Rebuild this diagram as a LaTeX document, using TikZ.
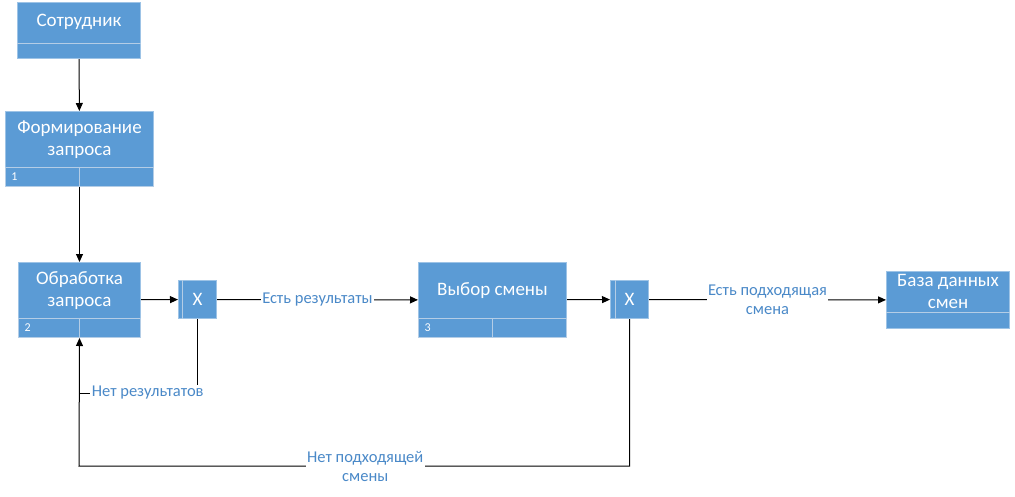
\documentclass[tikz,border=0pt]{standalone}
\usepackage{fontspec}
\setmainfont{Carlito}
\usepackage{xcolor}
\usetikzlibrary{arrows.meta, positioning, calc}

\definecolor{boxblue}{HTML}{5B9BD5}
\definecolor{boxedge}{HTML}{9DC3E6}
\definecolor{divblue}{HTML}{B4CDE6}
\definecolor{lblblue}{HTML}{4A89C8}

\begin{document}
\begin{tikzpicture}[
                x=1pt, y=-1pt,
                box/.style={rectangle, draw=boxedge, line width=1pt, fill=boxblue, inner sep=0pt, anchor=north west},
                boxtitle/.style={rectangle, inner sep=0pt, text=white, align=center, font=\fontsize{19}{22}\selectfont},
                cell/.style={rectangle, draw=divblue, line width=1pt, inner ysep=0pt, inner xsep=6pt, text=white, font=\fontsize{12}{12}\selectfont},
                junc/.style={box, minimum width=38, minimum height=38, text=white, font=\fontsize{19}{20}\selectfont},
                divline/.style={draw=divblue, line width=1pt},
                wire/.style={draw=black, line width=1pt},
                flow/.style={wire, -{Triangle[length=8pt, width=7pt]}},
                lbl/.style={fill=white, inner sep=1.5pt, text=lblblue, align=center, font=\fontsize{16.5}{19}\selectfont}
            ]
                \useasboundingbox (0,0) rectangle (1015,496);

                % Boxes
                \node[box, minimum width=123, minimum height=56] (sotr) at (17,2) {};
                \node[boxtitle, minimum height=40, below=0pt of sotr.north] {Сотрудник};
                \draw[divline] ([yshift=16pt]sotr.south west) -- ([yshift=16pt]sotr.south east);

                \node[box, minimum width=148, minimum height=75] (form) at (5,111) {};
                \node[boxtitle, minimum height=56, below=0pt of form.north] {Формирование\\запроса};
                \node[cell, minimum height=19, anchor=south west, text width=62] (form1) at (form.south west) {1};
                \node[cell, minimum width=74, minimum height=19, anchor=south east] at (form.south east) {};

                \node[box, minimum width=122, minimum height=75] (obr) at (18,262) {};
                \node[boxtitle, minimum height=56, below=0pt of obr.north] {Обработка\\запроса};
                \node[cell, minimum height=19, anchor=south west, text width=49] (obr2) at (obr.south west) {2};
                \node[cell, minimum width=61, minimum height=19, anchor=south east] at (obr.south east) {};

                \node[box, minimum width=148, minimum height=75] (vyb) at (418,262) {};
                \node[boxtitle, minimum height=56, below=0pt of vyb.north] {Выбор смены};
                \node[cell, minimum height=19, anchor=south west, text width=62] (vyb3) at (vyb.south west) {3};
                \node[cell, minimum width=74, minimum height=19, anchor=south east] at (vyb.south east) {};

                \node[box, minimum width=123, minimum height=57] (bd) at (886,271) {};
                \node[boxtitle, minimum height=40, below=0pt of bd.north] {База данных\\смен};
                \draw[divline] ([yshift=17pt]bd.south west) -- ([yshift=17pt]bd.south east);

                % Junctions
                \node[junc] (x1) at (178,280) {X};
                \draw[divline] ([xshift=4pt]x1.north west) -- ([xshift=4pt]x1.south west);
                \node[junc] (x2) at (610,280) {X};
                \draw[divline] ([xshift=5pt]x2.north west) -- ([xshift=5pt]x2.south west);

                \coordinate (loopa) at (79,393);
                \coordinate (loopb) at (79,466);

                % Edges
                \path[flow]
                    (sotr) edge (form)
                    (form) edge (obr)
                    (obr) edge (x1)
                    (x1) edge node[lbl] {Есть результаты} (vyb)
                    (vyb) edge (x2)
                    (x2) edge node[lbl] {Есть подходящая\\смена} (bd);
                \draw[wire] (x1.south) |- node[lbl, pos=0.71] {Нет результатов} (loopa);
                \draw[flow] (x2.south) |- node[lbl, pos=0.74] {Нет подходящей\\смены} (loopb) -- (obr.south);
            \end{tikzpicture}
\end{document}
